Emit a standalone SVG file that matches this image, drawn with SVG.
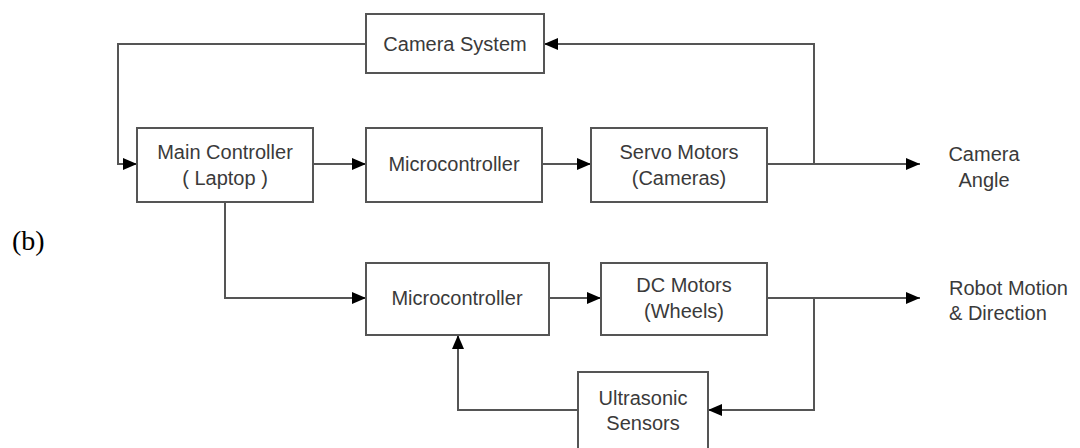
<svg xmlns="http://www.w3.org/2000/svg" width="1080" height="448" viewBox="0 0 1080 448">
<style>
.box{fill:#fff;stroke:#555;stroke-width:2}
.t{font-family:"Liberation Sans",Arial,sans-serif;font-size:20px;fill:#3a3a3a;text-anchor:middle}
.tl{font-family:"Liberation Sans",Arial,sans-serif;font-size:20px;fill:#3a3a3a}
.c{fill:none;stroke:#555;stroke-width:2}
.a{marker-end:url(#arr)}
</style>
<defs>
<marker id="arr" viewBox="0 0 14 14" refX="14" refY="7" markerWidth="14" markerHeight="14" markerUnits="userSpaceOnUse" orient="auto">
<path d="M0,1 L14,7 L0,13 z" fill="#000"/>
</marker>
</defs>
<rect width="1080" height="448" fill="#fff"/>
<text x="12" y="250" font-family="Liberation Serif,'Times New Roman',serif" font-size="28" fill="#000">(b)</text>
<g id="connectors">
<path class="c a" d="M366,44 H118 V164 H137"/>
<path class="c a" d="M313,164 H366"/>
<path class="c a" d="M542,164 H591"/>
<path class="c a" d="M767,164 H920"/>
<path class="c a" d="M814,164 V44 H544"/>
<path class="c a" d="M225,202 V298 H366"/>
<path class="c a" d="M549,298 H601"/>
<path class="c a" d="M767,298 H920"/>
<path class="c a" d="M814,298 V410 H708"/>
<path class="c a" d="M578,410 H458 V335"/>
</g>
<g id="camera-system"><rect class="box" x="366" y="14" width="178" height="59"/><text class="t" x="455" y="51">Camera System</text></g>
<g id="main-controller"><rect class="box" x="137" y="128" width="176" height="74"/><text class="t" x="225" y="159">Main Controller</text><text class="t" x="225" y="185">( Laptop )</text></g>
<g id="microcontroller-1"><rect class="box" x="366" y="128" width="176" height="74"/><text class="t" x="454" y="171">Microcontroller</text></g>
<g id="servo-motors"><rect class="box" x="591" y="128" width="176" height="74"/><text class="t" x="679" y="159">Servo Motors</text><text class="t" x="679" y="185">(Cameras)</text></g>
<g id="camera-angle"><text class="t" x="984" y="161">Camera</text><text class="t" x="984" y="187">Angle</text></g>
<g id="microcontroller-2"><rect class="box" x="366" y="263" width="183" height="72"/><text class="t" x="457" y="305">Microcontroller</text></g>
<g id="dc-motors"><rect class="box" x="601" y="263" width="166" height="72"/><text class="t" x="684" y="292">DC Motors</text><text class="t" x="684" y="318">(Wheels)</text></g>
<g id="robot-motion"><text class="tl" x="949" y="295">Robot Motion</text><text class="tl" x="949" y="320">&amp; Direction</text></g>
<g id="ultrasonic-sensors"><rect class="box" x="578" y="372" width="130" height="80"/><text class="t" x="643" y="405">Ultrasonic</text><text class="t" x="643" y="430">Sensors</text></g>
</svg>
